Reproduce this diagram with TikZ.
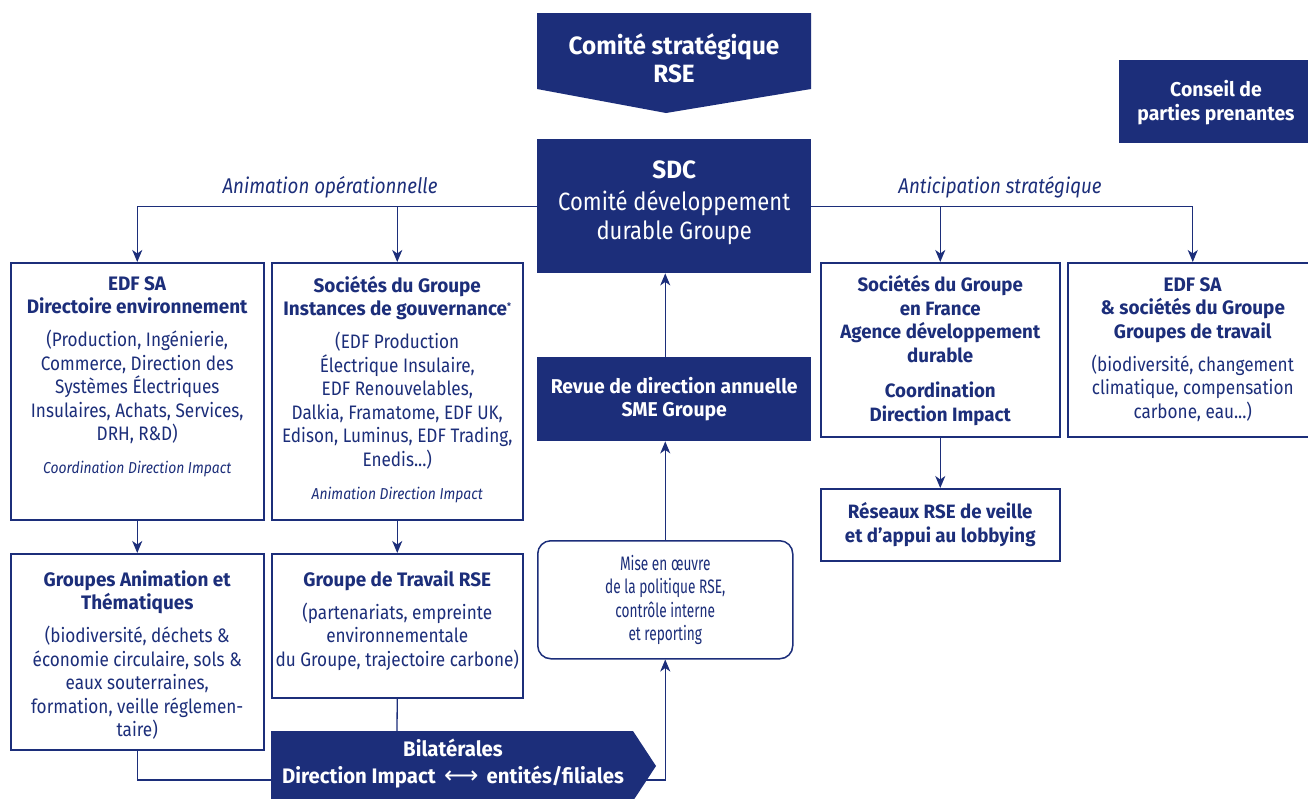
\documentclass[tikz,border=0pt]{standalone}
\usepackage{fontspec}
\setmainfont[FakeStretch=0.88, BoldFeatures={FakeStretch=0.97}]{Fira Sans}
\newfontfamily\condfont[FakeStretch=0.7]{Fira Sans}
\newfontfamily\symfont{DejaVu Sans}
\usetikzlibrary{arrows.meta}
\definecolor{edf}{RGB}{28,46,122}
\begin{document}
\begin{tikzpicture}[x=1pt,y=-1pt,
  frame/.style={draw=edf, line width=1.5pt, anchor=north west, inner sep=0pt},
  dark/.style={fill=edf, anchor=north west, inner sep=0pt},
  txt/.style={text=edf, align=center, inner sep=0pt, font=\fontsize{19.5}{23.5}\selectfont},
  btxt/.style={txt, font=\fontsize{19.3}{23.5}\selectfont\bfseries},
  wtxt/.style={text=white, align=center, inner sep=0pt, font=\fontsize{20}{23.5}\selectfont\bfseries},
  lbl/.style={text=edf, inner sep=0pt, font=\fontsize{21.3}{25}\selectfont\itshape},
  link/.style={draw=edf, line width=1.3pt},
  arr/.style={link, -{Stealth[length=12pt,width=10pt,inset=3.5pt]}},
]
\clip (0,0) rectangle (1308,798);
\fill[white] (0,0) rectangle (1308,798);

% top shapes
\fill[edf] (537,13) -- (811,13) -- (811,89) -- (666,113) -- (537,89) -- cycle;
\node[wtxt, font=\fontsize{25}{28}\selectfont\bfseries] (cs) at (674,58) {Comité stratégique\\RSE};

\node[dark, minimum width=274pt, minimum height=134pt] (sdc) at (537,139) {};
\node[text=white, align=center, inner sep=0pt, font=\fontsize{25}{29.5}\selectfont] (sdct) at ([yshift=3pt]sdc.center)
  {\textbf{SDC}\\[2pt]Comité développement\\durable Groupe};

\node[dark, minimum width=200pt, minimum height=83pt] (conseil) at (1119,60) {};
\node[wtxt] (conseilt) at (1216,102.5) {Conseil de\\parties prenantes};

% labels
\node[lbl] (anim) at (330,187) {Animation opérationnelle};
\node[lbl] (antic) at (1000,187) {Anticipation stratégique};

% left boxes
\node[frame, minimum width=253pt, minimum height=257pt] (edfsa) at (10,262) {};
\node[txt, anchor=north] (edfsat) at ([yshift=-14pt]edfsa.north)
  {\textbf{EDF SA}\\\textbf{Directoire environnement}\\[9.5pt]
   (Production, Ingénierie,\\Commerce, Direction des\\Systèmes Électriques\\Insulaires, Achats, Services,\\DRH, R\&D)\\[9.5pt]
   {\fontsize{15.8}{20}\selectfont\itshape Coordination Direction Impact}};

\node[frame, minimum width=251pt, minimum height=257pt] (soc) at (271,262) {};
\node[txt, anchor=north] (soct) at ([yshift=-14pt]soc.north)
  {\textbf{Sociétés du Groupe}\\\textbf{Instances de gouvernance}\raisebox{6pt}{\fontsize{9}{9}\selectfont\bfseries *}\\[9.5pt]
   (EDF Production\\Électrique Insulaire,\\EDF Renouvelables,\\Dalkia, Framatome, EDF UK,\\Edison, Luminus, EDF Trading,\\Enedis...)\\[10pt]
   {\fontsize{15.8}{20}\selectfont\itshape Animation Direction Impact}};

\node[frame, minimum width=253pt, minimum height=196pt] (ganim) at (10,553) {};
\node[txt, anchor=north] (ganimt) at ([yshift=-17pt]ganim.north)
  {\textbf{Groupes Animation et}\\\textbf{Thématiques}\\[9.5pt]
   (biodiversité, déchets \&\\économie circulaire, sols \&\\eaux souterraines,\\formation, veille réglemen-\\taire)};

\node[frame, minimum width=251pt, minimum height=144pt] (gtr) at (271,553) {};
\node[txt, anchor=north] (gtrt) at ([yshift=-17pt]gtr.north)
  {\textbf{Groupe de Travail RSE}\\[9.5pt]
   (partenariats, empreinte\\environnementale\\du Groupe, trajectoire carbone)};

% center column
\node[dark, minimum width=274pt, minimum height=84pt] (revue) at (537,357) {};
\node[wtxt] (revuet) at (revue.center) {Revue de direction annuelle\\SME Groupe};

\node[frame, rounded corners=13pt, minimum width=255pt, minimum height=118pt] (mise) at (537,540) {};
\node[txt, font=\fontsize{19.5}{23.5}\condfont] (miset) at (mise.center)
  {Mise en œuvre\\de la politique RSE,\\contrôle interne\\et reporting};

% right boxes
\node[frame, minimum width=239pt, minimum height=174pt] (socfr) at (820,262) {};
\node[btxt, anchor=north] (socfrt) at ([yshift=-13.5pt]socfr.north)
  {Sociétés du Groupe\\en France\\Agence développement\\durable\\[12pt]Coordination\\Direction Impact};

\node[frame, minimum width=250pt, minimum height=174pt] (edfsa2) at (1067,262) {};
\node[txt, anchor=north] (edfsa2t) at ([yshift=-15pt]edfsa2.north)
  {\textbf{EDF SA}\\\textbf{\& sociétés du Groupe}\\\textbf{Groupes de travail}\\[9.5pt]
   (biodiversité, changement\\climatique, compensation\\carbone, eau...)};

\node[frame, minimum width=239pt, minimum height=72pt] (reseaux) at (820,488) {};
\node[btxt] (reseauxt) at (reseaux.center)
  {Réseaux RSE de veille\\et d’appui au lobbying};

% bilaterales
\fill[edf] (271,731) -- (633,731) -- (656,766) -- (633,801) -- (271,801) -- cycle;
\node[wtxt, font=\fontsize{21}{27}\selectfont\bfseries] (bilat) at (453,764)
  {Bilatérales\\Direction Impact \,{\symfont\mdseries\fontsize{24}{24}\selectfont ⟷}\, entités/filiales};
\coordinate (bilL) at (271,780);
\coordinate (bilT) at (397,731);
\coordinate (bilR) at (646,780);

% connectors
\draw[arr] (sdc.west) -| (edfsa.north);
\draw[arr] (sdc.west) -| (soc.north);
\draw[arr] (sdc.east) -| (edfsa2.north);
\draw[arr] (sdc.east) -| (socfr.north);
\draw[arr] (edfsa.south) -- (ganim.north);
\draw[arr] (soc.south) -- (gtr.north);
\draw[arr] (socfr.south) -- (reseaux.north);
\draw[link] (gtr.south) -- (bilT);
\draw[link] (ganim.south) |- (bilL);
\draw[arr] (bilR) -| (mise.south);
\draw[arr] (mise.north) -- (mise.north |- revue.south);
\draw[arr] (mise.north |- revue.north) -- (mise.north |- sdc.south);
\end{tikzpicture}
\end{document}
